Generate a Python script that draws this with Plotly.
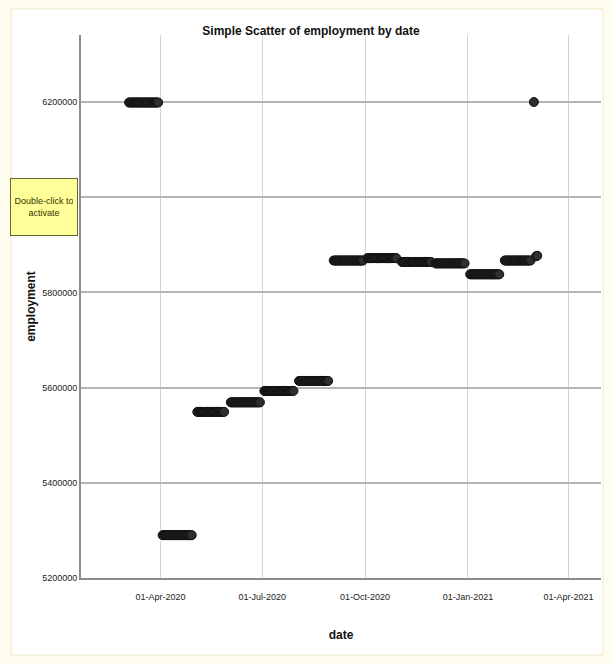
import pandas as pd
import plotly.graph_objects as go
import calendar

# Monthly employment values; each month is plotted as daily points
months = ["2020-03", "2020-04", "2020-05", "2020-06", "2020-07", "2020-08",
          "2020-09", "2020-10", "2020-11", "2020-12", "2021-01", "2021-02"]
values = [6199000, 5290000, 5549000, 5569000, 5593000, 5614000,
          5867000, 5872000, 5864000, 5861000, 5838000, 5867000]
first_day = [4, 3, 4, 3, 3, 3, 3, 3, 3, 3, 3, 3]
last_day = [30, 29, 28, 29, 29, 29, 29, 29, 29, 29, 29, 26]

# Extra individual observations in March 2021
extra_dates = ["2021-03-01", "2021-03-03", "2021-03-04"]
extra_values = [6200000, 5876000, 5877000]

y_tickvals = [5200000, 5400000, 5600000, 5800000, 6000000, 6200000]
x_tickvals = ["2020-04-01", "2020-07-01", "2020-10-01", "2021-01-01", "2021-04-01"]
x_ticktext = ["01-Apr-2020", "01-Jul-2020", "01-Oct-2020", "01-Jan-2021", "01-Apr-2021"]

dates, emp = [], []
for m, v, d0, d1 in zip(months, values, first_day, last_day):
    y, mo = map(int, m.split("-"))
    d1 = min(d1, calendar.monthrange(y, mo)[1])
    for d in range(d0, d1 + 1):
        dates.append(pd.Timestamp(y, mo, d))
        emp.append(v)
for d, v in zip(extra_dates, extra_values):
    dates.append(pd.Timestamp(d))
    emp.append(v)

FONT = "Liberation Sans Narrow, Arial Narrow, Liberation Sans, Arial, sans-serif"

fig = go.Figure()
fig.add_trace(go.Scatter(
    x=dates, y=emp, mode="markers",
    marker=dict(size=9, color="#2e2e2e", line=dict(width=1, color="#111111")),
    showlegend=False,
))

# plot area in px: left 81, right 601, top 35, bottom 578
L, R, T, B = 81, 601, 35, 578
W, H = R - L, B - T


def px_x(x):
    return (x - L) / W


def px_y(y):
    return (B - y) / H


fig.add_shape(type="rect", xref="paper", yref="paper",
              x0=px_x(11), x1=px_x(603), y0=px_y(655), y1=px_y(9),
              fillcolor="white", line=dict(color="#EFE7C4", width=1), layer="below")

fig.add_annotation(
    x=px_x(43.5), y=px_y(207), xref="paper", yref="paper",
    xanchor="center", yanchor="middle",
    text="Double-click to<br>activate", showarrow=False,
    font=dict(family=FONT, size=9, color="#333300"),
    bgcolor="#FFFF99", bordercolor="#666633", borderwidth=1, borderpad=4,
    width=58, height=48, align="center", valign="middle",
)

fig.update_layout(
    width=611, height=664,
    margin=dict(l=L, r=611 - R, t=T, b=664 - B),
    paper_bgcolor="#FFFDF0",
    plot_bgcolor="white",
    title=dict(text="<b>Simple Scatter of employment by date</b>",
               x=311 / 611, xanchor="center", y=1 - 31 / 664, yanchor="middle",
               yref="container", font=dict(family=FONT, size=12, color="#111111")),
    xaxis=dict(
        type="date", range=["2020-01-21", "2021-04-30"],
        tickvals=x_tickvals, ticktext=x_ticktext,
        tickfont=dict(family=FONT, size=9, color="#222222"),
        ticklabelstandoff=9,
        showgrid=True, gridcolor="#d4d4d4", gridwidth=1,
        showline=True, linecolor="#8c8c8c", linewidth=2,
        ticks="", zeroline=False,
        title=dict(text="<b>date</b>", font=dict(family="Liberation Sans, Arial, sans-serif", size=12, color="#111111"), standoff=30),
    ),
    yaxis=dict(
        range=[5200000, 6340800],
        tickvals=y_tickvals, tickformat="d",
        tickfont=dict(family=FONT, size=9, color="#222222"),
        showgrid=True, gridcolor="#b4b4b4", gridwidth=1.5,
        showline=True, linecolor="#8c8c8c", linewidth=2,
        ticks="", zeroline=False,
        title=dict(text="<b>employment</b>", font=dict(family="Liberation Sans, Arial, sans-serif", size=12, color="#111111"), standoff=4),
    ),
)

fig.write_html("out.html")
